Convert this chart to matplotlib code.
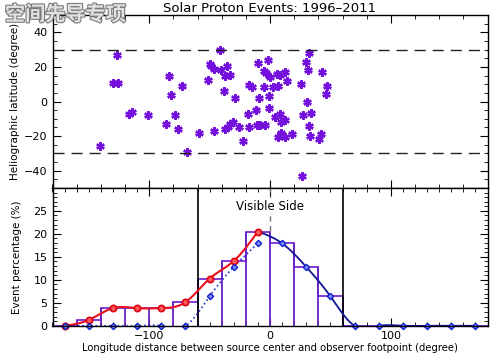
#!/usr/bin/env python3
import numpy as np
import matplotlib
matplotlib.use('Agg')
import matplotlib.pyplot as plt
import matplotlib.patheffects as pe
from matplotlib.ticker import MultipleLocator

# source longitude distance (deg) and heliographic latitude (deg) of each event
lon = [-141, -127, -130, -126, -116.5, -114, -101,
       -86, -84, -82, -78.5, -76.5, -72.5, -69,
       -58.4, -51.6, -50, -48.8, -46.6, -46.6, -41.7, -40.6,
       -37.5, -33.5, -35.6, -37.9, -28.8, -37, -35.1, -32.9, -31, -25.3, -22,
       -17.3, -15.1, -18.4, -12, -17.3, -10.4, -8.2, -4.5, -10.1, -1.5, -5, -3.5, -4.8, -9.1, -1, -0.5,
       0.3, 5.5, 8.5, 12.7, 13.7, 2.7, 6.8, 4.1, 8.5, 9.3, 12.8, 8.8, 6.8, 12.6, 17.8,
       32.4, 29.6, 31.5, 25.4, 30.7, 27.4, 33.6, 32.4, 33.5, 26.6,
       43.4, 47.5, 46.6, 42.5, 40.5]
lat = [-26, 27, 11, 11, -7, -6, -8,
       -13, 15, 4, -8, -16, 9, -29,
       -18, 12.2, 22, 20.4, 18.9, -17, 30, 18,
       14.5, 15.2, 20.4, 6, 2, -16, -15, -13, -12, -15, -23,
       9.4, 8.2, -7.1, -5, -15, -13.7, -13.7, -13.7, 22.2, 24, 17.4, 16.7, 8.2, 2, 3, -3.8,
       14.1, 16.2, 15.2, 17.2, 12.1, 8.2, 9.2, -8.7, -7, -12, -10.8, -18, -20.8, -20.8, -18.9,
       28.2, 23, 18.1, 10.3, 0, -7.9, -6.9, -14, -19.8, -43,
       16.9, 9.2, 4.2, -18.8, -21.8]

# histogram, 20 degree bins from -180 to 180 (percent of events)
bin_edges = list(range(-180, 181, 20))
hist_pct = [0, 1.28, 3.85, 3.85, 3.85, 5.13, 10.26, 14.10, 20.51,
            17.95, 12.82, 6.41, 0, 0, 0, 0, 0, 0]
# east side (red) and mirrored west side (blue)
east_x = [-170, -150, -130, -110, -90, -70, -50, -30, -10]
east_pct = [0, 1.28, 3.85, 3.85, 3.85, 5.13, 10.26, 14.10, 20.51]
mirror_pct = [0, 0, 0, 0, 0, 0, 6.41, 12.82, 17.95]
west_x = [-10, 10, 30, 50, 70, 90, 110, 130, 150, 170]
west_pct = [20.51, 17.95, 12.82, 6.41, 0, 0, 0, 0, 0, 0]


def spline(x, y, n=200):
    # natural cubic spline through the points
    x = np.asarray(x, float); y = np.asarray(y, float)
    h = np.diff(x)
    m = len(x)
    A = np.zeros((m, m)); b = np.zeros(m)
    A[0, 0] = A[-1, -1] = 1
    for i in range(1, m - 1):
        A[i, i - 1] = h[i - 1]; A[i, i] = 2 * (h[i - 1] + h[i]); A[i, i + 1] = h[i]
        b[i] = 6 * ((y[i + 1] - y[i]) / h[i] - (y[i] - y[i - 1]) / h[i - 1])
    M = np.linalg.solve(A, b)
    xs = np.linspace(x[0], x[-1], n)
    k = np.clip(np.searchsorted(x, xs) - 1, 0, m - 2)
    t0 = x[k + 1] - xs; t1 = xs - x[k]; hk = h[k]
    ys = (M[k] * t0**3 + M[k + 1] * t1**3) / (6 * hk) + \
         (y[k] / hk - M[k] * hk / 6) * t0 + (y[k + 1] / hk - M[k + 1] * hk / 6) * t1
    return xs, ys


def style_axes(ax):
    ax.tick_params(which='both', direction='in', top=True, right=True, labelsize=8)
    ax.tick_params(which='major', length=6, width=0.8)
    ax.tick_params(which='minor', length=3, width=0.6)
    for s in ax.spines.values():
        s.set_linewidth(1.0)


fig = plt.figure(figsize=(5.0, 3.6), dpi=100)
ax1 = fig.add_axes([0.105, 0.478, 0.870, 0.480])
ax2 = fig.add_axes([0.105, 0.095, 0.870, 0.383])

# top: latitude scatter
ax1.plot(lon, lat, ls='none', marker=(6, 2, 0), ms=6, mew=1.7, color='#7410dc')
for yv in (30, -30):
    ax1.axhline(yv, color='#222222', lw=1.0, ls=(0, (8, 5)))
ax1.set_xlim(-180, 180)
ax1.set_ylim(-50, 50)
ax1.xaxis.set_major_locator(MultipleLocator(100))
ax1.xaxis.set_minor_locator(MultipleLocator(20))
ax1.yaxis.set_major_locator(MultipleLocator(20))
ax1.yaxis.set_minor_locator(MultipleLocator(5))
ax1.set_xticklabels([])
ax1.set_ylabel('Heliographic latitude (degree)', fontsize=7.5, labelpad=3)
ax1.set_title('Solar Proton Events: 1996\u20132011', fontsize=9.5, pad=2)
style_axes(ax1)

# bottom: event percentage histogram
ax2.stairs(hist_pct, bin_edges, color='#7b2bd4', lw=1.3)
ax2.vlines(bin_edges[1:-1], 0, [max(a, b) for a, b in zip(hist_pct[:-1], hist_pct[1:])],
           color='#6a22c0', lw=1.3)
ax2.axvline(-60, color='black', lw=1.2)
ax2.axvline(60, color='black', lw=1.2)
ax2.plot([0, 0], [20.6, 30], color='#777777', lw=1.0, ls=(0, (4, 3)))
ax2.text(0, 25.9, 'Visible Side', ha='center', va='center', fontsize=8.5,
         bbox=dict(facecolor='white', edgecolor='none', pad=1.5))

xs, ys = spline(east_x, east_pct)
ax2.plot(xs, ys, color='#e8101c', lw=1.5)
xs, ys = spline(east_x, mirror_pct)
ax2.plot(xs, ys, color='#2233cc', lw=1.2, ls=':')
xs, ys = spline(west_x, west_pct)
ax2.plot(xs, ys, color='#141496', lw=1.3)
ax2.plot(east_x, east_pct, ls='none', marker='o', ms=4.5, mfc='#ff5a5a', mec='#e00010',
         mew=1.2, clip_on=False)
ax2.plot(east_x, mirror_pct, ls='none', marker='D', ms=3.2, mfc='#7f8cff', mec='#1020c8',
         mew=1.0, clip_on=False)
ax2.plot(west_x[1:], west_pct[1:], ls='none', marker='D', ms=3.2, mfc='#7f8cff', mec='#1020c8',
         mew=1.0, clip_on=False)

ax2.set_xlim(-180, 180)
ax2.set_ylim(0, 30)
ax2.set_yticks([0, 5, 10, 15, 20, 25])
ax2.xaxis.set_major_locator(MultipleLocator(100))
ax2.xaxis.set_minor_locator(MultipleLocator(10))
ax2.yaxis.set_minor_locator(MultipleLocator(1))
ax2.set_xlabel('Longitude distance between source center and observer footpoint (degree)',
               fontsize=7.2, labelpad=2)
ax2.set_ylabel('Event percentage (%)', fontsize=7.5, labelpad=8)
style_axes(ax2)

fig.text(0.01, 0.99, '空间先导专项', ha='left', va='top', fontsize=14.5, fontweight='bold',
         family=['Noto Sans CJK SC', 'DejaVu Sans'], color='#e2e2e2',
         path_effects=[pe.withStroke(linewidth=1.6, foreground='#7a7a7a')])

fig.savefig('out.png', dpi=100)
